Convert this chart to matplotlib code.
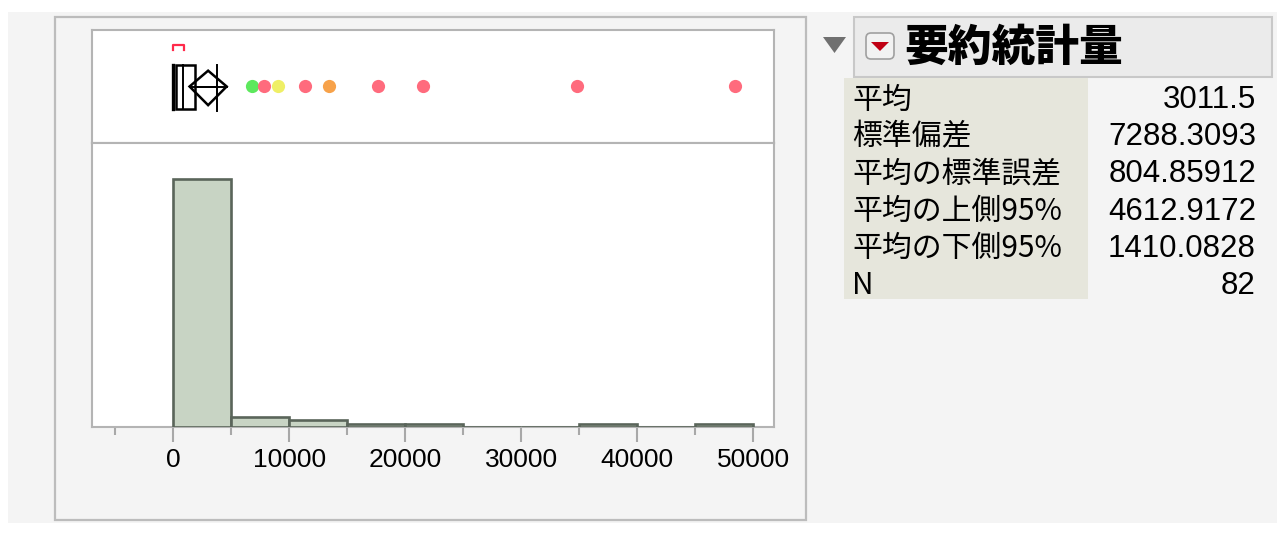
import numpy as np
import matplotlib.pyplot as plt
from matplotlib.patches import Rectangle, Polygon, FancyBboxPatch

plt.rcParams['font.family'] = ['Liberation Sans', 'Noto Sans CJK JP', 'DejaVu Sans']

# histogram data (bin width 5000)
bin_edges = np.arange(0, 50001, 5000)
counts = [73, 3, 2, 1, 1, 0, 0, 1, 0, 1]

# outlier box plot
q1, median, q3 = 200, 850, 1900
whisker_lo, whisker_hi = 0, 3800
mean, ci_lo, ci_hi = 3011.5, 1410.0828, 4612.9172
short_half = (0, 900)
outliers = [6800, 7800, 9000, 11400, 13400, 17700, 21500, 34800, 48400]
outlier_colors = ['#5de85d', '#ff6b7d', '#efef66', '#ff6b7d', '#f7a24a',
                  '#ff6b7d', '#ff6b7d', '#ff6b7d', '#ff6b7d']

# summary table
stat_names = ['平均', '標準偏差', '平均の標準誤差', '平均の上側95%', '平均の下側95%', 'N']
stat_values = ['3011.5', '7288.3093', '804.85912', '4612.9172', '1410.0828', '82']
title = '要約統計量'

W, H = 1277, 533
fig = plt.figure(figsize=(W / 100, H / 100), dpi=100)
fig.patch.set_facecolor('white')

# background layer in pixel coords
bg = fig.add_axes([0, 0, 1, 1], zorder=0)
bg.set_xlim(0, W)
bg.set_ylim(H, 0)
bg.axis('off')
bg.add_patch(Rectangle((8, 12), W - 8, 511, facecolor='#f4f4f4', edgecolor='none'))
bg.add_patch(Rectangle((55, 17), 751, 503, facecolor='none', edgecolor='#bcbcbc', lw=1.6))

def px_axes(x0, y0, x1, y1, z=2):
    return fig.add_axes([x0 / W, 1 - y1 / H, (x1 - x0) / W, (y1 - y0) / H], zorder=z)

xmin, xmax = -7000, 51800
frame_col = '#b4b4b4'

# box plot panel
axb = px_axes(92, 30, 774, 143)
axb.set_xlim(xmin, xmax)
axb.set_ylim(0, 1)
axb.set_xticks([])
axb.set_yticks([])
for s in axb.spines.values():
    s.set_color(frame_col)
    s.set_linewidth(1.5)

yb0, yb1, yc = 0.30, 0.69, 0.50
axb.add_patch(Rectangle((q1, yb0), q3 - q1, yb1 - yb0, facecolor='white',
                        edgecolor='black', lw=1.8, zorder=3))
axb.plot([median, median], [yb0, yb1], color='black', lw=1.4, zorder=4)
axb.plot([whisker_lo, whisker_lo], [yb0, yb1], color='black', lw=2.4, zorder=4)
axb.plot([q3, whisker_hi], [yc, yc], color='black', lw=1.4, zorder=4)
axb.plot([whisker_hi, whisker_hi], [yb0 - 0.02, yb1], color='black', lw=1.4, zorder=4)
axb.add_patch(Polygon([(ci_lo, yc), (mean, 0.64), (ci_hi, yc), (mean, 0.335)],
                      closed=True, facecolor='none', edgecolor='black', lw=1.8, zorder=5))
axb.plot([ci_lo, ci_hi], [yc, yc], color='black', lw=1.4, zorder=5)
axb.plot([short_half[0], short_half[0], short_half[1], short_half[1]],
         [0.825, 0.868, 0.868, 0.825], color='#ff2a4a', lw=1.6)
for xv, c in zip(outliers, outlier_colors):
    axb.plot(xv, 0.505, 'o', ms=9.5, color=c, mec='none', zorder=6)

# histogram panel
axh = px_axes(92, 143, 774, 427)
axh.set_xlim(xmin, xmax)
axh.set_ylim(0, 83.5)
axh.bar(bin_edges[:-1], counts, width=5000, align='edge',
        facecolor='#c8d4c4', edgecolor='#5a655a', lw=1.9, zorder=3)
axh.set_yticks([])
for s in axh.spines.values():
    s.set_color(frame_col)
    s.set_linewidth(1.5)
axh.set_xticks(np.arange(0, 50001, 10000))
axh.set_xticks(np.arange(-5000, 50001, 10000), minor=True)
axh.tick_params(axis='x', which='major', length=11, width=1.5, color='#a8a8a8',
                labelsize=19, pad=4)
axh.tick_params(axis='x', which='minor', length=6, width=1.5, color='#a8a8a8')

# summary statistics header
bg.add_patch(Rectangle((854, 17), 418, 60, facecolor='#ebebeb', edgecolor='#c8c8c8', lw=1.5))
bg.add_patch(Polygon([(823, 37), (846, 37), (834.5, 53)], closed=True,
                     facecolor='#707070', edgecolor='none'))
bg.add_patch(FancyBboxPatch((866, 33), 28, 26, boxstyle='round,pad=0,rounding_size=5',
                            facecolor='#f2f2f2', edgecolor='#a0a0a0', lw=1.2))
bg.add_patch(Polygon([(871, 42), (889, 42), (880, 51)], closed=True,
                     facecolor='#c00014', edgecolor='none'))
bg.text(904, 47, title, fontsize=31.5, fontweight='heavy', va='center', ha='left',
        family=['Noto Sans CJK JP', 'DejaVu Sans'])

# summary table
bg.add_patch(Rectangle((844, 78), 244, 221, facecolor='#e6e6dc', edgecolor='none'))
row0, row_h = 100, 37.2
for i, (name, val) in enumerate(zip(stat_names, stat_values)):
    y = row0 + i * row_h
    bg.text(852, y, name, fontsize=21.5, va='center', ha='left',
            family=['Noto Sans CJK JP', 'DejaVu Sans'])
    bg.text(1256, y, val, fontsize=22.5, va='center', ha='right')

fig.savefig('out.png', dpi=100, facecolor=fig.get_facecolor())
